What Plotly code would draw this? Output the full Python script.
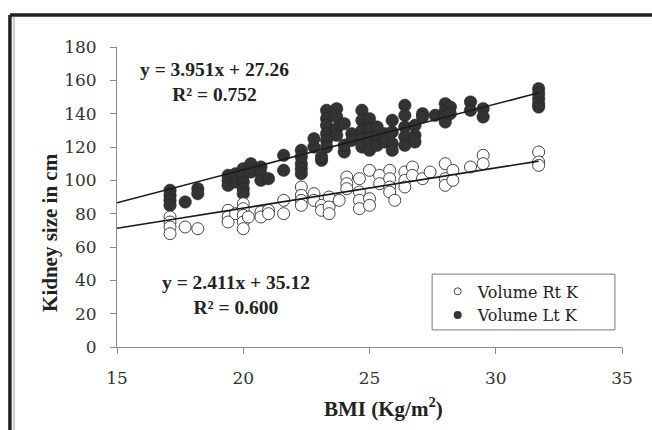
import plotly.graph_objects as go

# BMI (Kg/m2) vs kidney volume
bmi_rt = [17.1, 17.1, 17.1, 17.1, 17.7, 18.2,
          19.4, 19.4, 19.4, 19.7,
          20.0, 20.0, 20.0, 20.0, 20.0, 20.2,
          20.7, 20.7, 21.0, 21.0, 21.6, 21.6,
          22.3, 22.3, 22.3, 22.3, 22.8, 22.8, 23.1, 23.1,
          23.4, 23.4, 23.4, 23.8, 24.1, 24.1, 24.1,
          24.6, 24.6, 24.6, 24.6, 25.0, 25.0, 25.0, 25.4, 25.4,
          25.8, 25.8, 25.8, 25.8, 26.0, 26.4, 26.4, 26.4, 26.7, 26.7,
          27.1, 27.4, 28.0, 28.0, 28.0, 28.3, 28.3, 29.0, 29.5, 29.5,
          31.7, 31.7, 31.7]
vol_rt = [78, 75, 72, 68, 72, 71,
          82, 78, 75, 80,
          86, 83, 79, 75, 71, 78,
          81, 78, 82, 80, 88, 80,
          96, 91, 88, 85, 92, 88, 85, 82,
          90, 84, 80, 88, 102, 98, 95,
          101, 93, 88, 83, 106, 89, 85, 103, 98,
          106, 101, 96, 93, 88, 105, 100, 96, 108, 103,
          101, 105, 110, 101, 97, 106, 100, 108, 115, 110,
          117, 111, 109]

bmi_lt = [17.1, 17.1, 17.1, 17.1, 17.7, 18.2, 18.2,
          19.4, 19.4, 19.4, 19.7, 19.7,
          20.0, 20.0, 20.0, 20.0, 20.0, 20.3, 20.3,
          20.7, 20.7, 20.7, 21.0, 21.6, 21.6,
          22.3, 22.3, 22.3, 22.3, 22.3, 22.8, 22.8, 23.1, 23.1,
          23.3, 23.3, 23.3, 23.3, 23.3, 23.3, 23.7, 23.7, 23.7, 23.7,
          24.0, 24.0, 24.0, 24.3, 24.3,
          24.7, 24.7, 24.7, 24.7, 24.7, 25.0, 25.0, 25.0, 25.0,
          25.3, 25.3, 25.3, 25.6, 25.6, 25.9, 25.9, 25.9, 25.9,
          26.4, 26.4, 26.4, 26.4, 26.4, 26.8, 26.8, 26.8,
          27.1, 27.1, 27.6, 28.0, 28.0, 28.0, 28.0, 28.2, 28.2,
          29.0, 29.0, 29.5, 29.5,
          31.7, 31.7, 31.7, 31.7, 31.7]
vol_lt = [94, 91, 88, 85, 87, 95, 92,
          103, 100, 97, 104, 99,
          107, 103, 99, 95, 92, 110, 105,
          108, 104, 100, 101, 115, 106,
          118, 114, 110, 107, 104, 120, 125, 112, 114,
          142, 137, 133, 128, 124, 120, 143, 138, 131, 127,
          117, 121, 134, 128, 124,
          142, 136, 130, 125, 120, 137, 131, 125, 118,
          132, 126, 121, 128, 123, 136, 129, 122, 118,
          145, 139, 132, 126, 121, 133, 127, 123,
          140, 138, 139, 146, 142, 138, 135, 144, 140,
          147, 142, 143, 138,
          155, 152, 149, 146, 144]

# Excel linear trendlines as printed on the chart
slope_rt, icpt_rt, r2_rt = 2.411, 35.12, 0.600
slope_lt, icpt_lt, r2_lt = 3.951, 27.26, 0.752
trend_x = [15, 31.7]

SERIF = "Liberation Serif, Times New Roman, serif"
SERIF_REG = "DejaVu Serif, serif"
DARK = "#333333"

fig = go.Figure()

# data
fig.add_trace(go.Scatter(
    x=bmi_lt, y=vol_lt, mode="markers", showlegend=False,
    marker=dict(size=12.5, color=DARK, line=dict(color="#222222", width=0.5)),
))
fig.add_trace(go.Scatter(
    x=bmi_rt, y=vol_rt, mode="markers", showlegend=False,
    marker=dict(size=12, color="white", line=dict(color="#444444", width=1)),
))

# trendlines
for m, c in [(slope_lt, icpt_lt), (slope_rt, icpt_rt)]:
    fig.add_trace(go.Scatter(
        x=trend_x, y=[m * v + c for v in trend_x], mode="lines",
        showlegend=False, line=dict(color="#1a1a1a", width=1.6),
    ))

# legend-only entries (smaller symbols like the original)
fig.add_trace(go.Scatter(
    x=[None], y=[None], mode="markers", name="Volume Rt K",
    marker=dict(size=7, color="white", line=dict(color="#444444", width=1)),
))
fig.add_trace(go.Scatter(
    x=[None], y=[None], mode="markers", name="Volume Lt K",
    marker=dict(size=8, color=DARK),
))

axis_style = dict(
    showgrid=False, zeroline=False, showline=True, linecolor="#8c8c8c",
    linewidth=1, ticks="outside", ticklen=6, tickcolor="#8c8c8c",
    tickfont=dict(family=SERIF_REG, size=17, color="#333333"),
)

fig.update_xaxes(range=[15, 35], dtick=5, ticklabelstandoff=10, **axis_style)
fig.update_yaxes(range=[0, 180], dtick=20, ticklabelstandoff=10, **axis_style)

eq_font = dict(family=SERIF, size=19.5, color="#222222")
fig.add_annotation(
    x=18.85, y=159, xref="x", yref="y", showarrow=False, font=eq_font,
    xanchor="center", yanchor="middle",
    text=f"<b>y = {slope_lt}x + {icpt_lt}<br>R² = {r2_lt:.3f}</b>",
)
fig.add_annotation(
    x=19.7, y=31, xref="x", yref="y", showarrow=False, font=eq_font,
    xanchor="center", yanchor="middle",
    text=f"<b>y = {slope_rt}x + {icpt_rt}<br>R² = {r2_rt:.3f}</b>",
)

# axis titles
fig.add_annotation(
    x=-0.133, y=0.383, xref="paper", yref="paper", showarrow=False,
    xanchor="center", yanchor="middle", textangle=-90,
    text="<b>Kidney size in cm</b>",
    font=dict(family=SERIF, size=21, color="#222222"),
)
fig.add_annotation(
    x=0.527, y=-0.203, xref="paper", yref="paper", showarrow=False,
    xanchor="center", yanchor="middle",
    text="<b>BMI (Kg/m<sup>2</sup>)</b>",
    font=dict(family=SERIF, size=21, color="#222222"),
)

# legend box and outer frame
fig.add_shape(type="rect", xref="paper", yref="paper",
              x0=0.624, x1=0.986, y0=0.057, y1=0.243,
              line=dict(color="#7a7a7a", width=1), fillcolor="white", layer="below")
fig.add_shape(type="line", xref="paper", yref="paper",
              x0=-0.212, x1=1.07, y0=1.107, y1=1.107,
              line=dict(color="#222222", width=3.5))
fig.add_shape(type="line", xref="paper", yref="paper",
              x0=-0.212, x1=-0.212, y0=1.107, y1=-0.3,
              line=dict(color="#222222", width=3.5))
fig.add_shape(type="line", xref="paper", yref="paper",
              x0=-0.204, x1=-0.204, y0=1.1, y1=-0.3,
              line=dict(color="#9a9a9a", width=1))

fig.update_layout(
    width=652, height=430,
    margin=dict(l=117, r=30, t=47, b=83),
    paper_bgcolor="white", plot_bgcolor="white",
    font=dict(family=SERIF, color="#222222"),
    legend=dict(
        x=0.635, y=0.242, xanchor="left", yanchor="top",
        bgcolor="rgba(0,0,0,0)", borderwidth=0,
        font=dict(family=SERIF_REG, size=16, color="#222222"),
        itemwidth=30, tracegroupgap=2,
    ),
)

# the page sits at the window's top-left corner like the original image
fig.write_html("out.html", config={"displayModeBar": False},
               post_script="document.body.style.margin='0';")
